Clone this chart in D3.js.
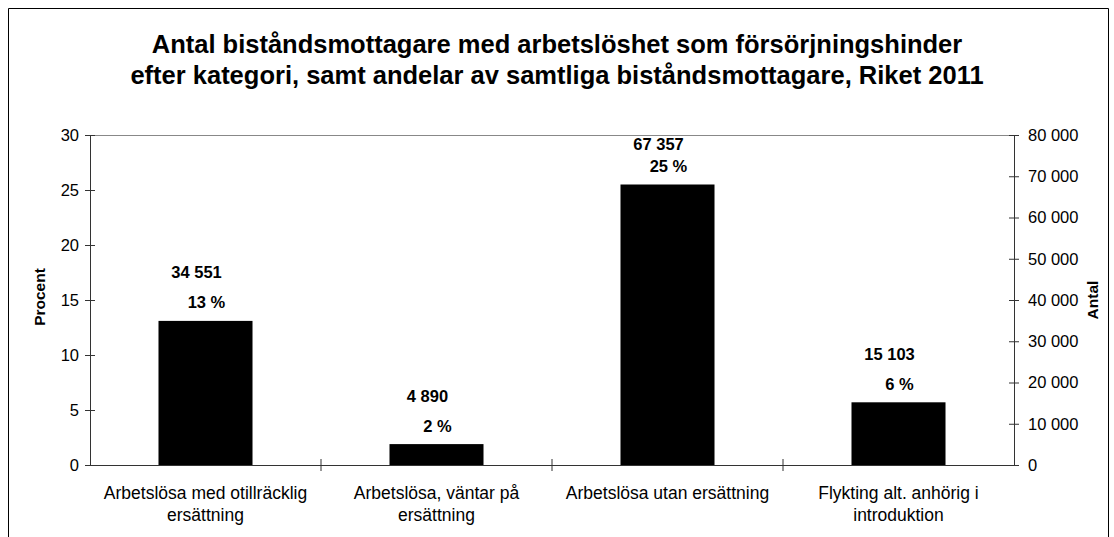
<!DOCTYPE html>
<html>
<head>
<meta charset="utf-8">
<script src="https://cdn.jsdelivr.net/npm/d3@7"></script>
<style>
  body { margin: 0; background: #fff; }
  svg { display: block; font-family: "Liberation Sans", Arial, sans-serif; }
</style>
</head>
<body>
<div id="chart"></div>
<script>
const categories = [
  ["Arbetslösa med otillräcklig", "ersättning"],
  ["Arbetslösa, väntar på", "ersättning"],
  ["Arbetslösa utan ersättning"],
  ["Flykting alt. anhörig i", "introduktion"]
];
const percentValues = [13.1, 1.9, 25.5, 5.7];
const percentLabels = ["13 %", "2 %", "25 %", "6 %"];
const countLabels = ["34 551", "4 890", "67 357", "15 103"];
const percentTicks = [0, 5, 10, 15, 20, 25, 30];
const countTicks = [0, 10000, 20000, 30000, 40000, 50000, 60000, 70000, 80000];
const titleLines = [
  "Antal biståndsmottagare med arbetslöshet som försörjningshinder",
  "efter kategori, samt andelar av samtliga biståndsmottagare, Riket 2011"
];

const width = 1114, height = 537;
const margin = { top: 135, right: 100, bottom: 72, left: 90 };
const plotW = width - margin.left - margin.right;
const plotH = height - margin.top - margin.bottom;

const svg = d3.select("#chart").append("svg")
  .attr("width", width)
  .attr("height", height);

// outer frame (cut off at the bottom like the original)
svg.append("path")
  .attr("d", `M8.5,${height}V8.5H1108.5V${height}`)
  .attr("fill", "none")
  .attr("stroke", "#000")
  .attr("stroke-width", 1);

svg.append("g").selectAll("text")
  .data(titleLines)
  .enter().append("text")
  .attr("x", 557)
  .attr("y", (d, i) => 52.5 + i * 31)
  .attr("text-anchor", "middle")
  .attr("font-size", "25.5px")
  .attr("font-weight", "bold")
  .text(d => d);

const g = svg.append("g").attr("transform", `translate(${margin.left},${margin.top})`);

const x = d3.scaleBand()
  .domain(d3.range(categories.length))
  .range([0, plotW]);
const barW = x.step() * 0.407;

const yPct = d3.scaleLinear().domain([0, 30]).range([plotH, 0]);
const yCount = d3.scaleLinear().domain([0, 80000]).range([plotH, 0]);

// top border of plot area
g.append("line")
  .attr("x1", 0).attr("x2", plotW)
  .attr("y1", 0.5).attr("y2", 0.5)
  .attr("stroke", "#888");

// bars
g.selectAll("rect.bar")
  .data(percentValues)
  .enter().append("rect")
  .attr("class", "bar")
  .attr("x", (d, i) => x(i) + (x.step() - barW) / 2)
  .attr("y", d => yPct(d))
  .attr("width", barW)
  .attr("height", d => plotH - yPct(d))
  .attr("fill", "#000");

// left axis
const leftAxis = g.append("g")
  .call(d3.axisLeft(yPct).tickValues(percentTicks).tickSize(5));
leftAxis.selectAll(".tick line").attr("x1", 5).attr("x2", -5);

// right axis
const fmtCount = d => d3.format(",")(d).replace(/,/g, " ");
const rightAxis = g.append("g")
  .attr("transform", `translate(${plotW},0)`)
  .call(d3.axisRight(yCount).tickValues(countTicks).tickFormat(fmtCount));
rightAxis.selectAll(".tick line").attr("x1", -5).attr("x2", 5);

// bottom axis
const bottomAxis = g.append("g")
  .attr("transform", `translate(0,${plotH})`)
  .call(d3.axisBottom(x).tickValues([]).tickSizeOuter(0));
bottomAxis.selectAll(".cat-tick")
  .data(d3.range(1, categories.length))
  .enter().append("line")
  .attr("class", "cat-tick")
  .attr("x1", i => i * x.step()).attr("x2", i => i * x.step())
  .attr("y1", -6).attr("y2", 6)
  .attr("stroke", "#333");

[leftAxis, rightAxis, bottomAxis].forEach(a => {
  a.select(".domain").attr("stroke", "#333");
  a.selectAll(".tick line").attr("stroke", "#333");
  a.selectAll(".tick text")
    .attr("font-size", "16.5px")
    .attr("font-family", "Liberation Sans, Arial, sans-serif")
    .attr("fill", "#000");
});
leftAxis.selectAll(".tick text").attr("x", -11);
rightAxis.selectAll(".tick text").attr("x", 14);
leftAxis.select(".domain").attr("d", `M0.5,0V${plotH}`);
rightAxis.select(".domain").attr("d", `M0.5,0V${plotH}`);

// category labels
const catG = g.append("g").attr("transform", `translate(0,${plotH})`);
categories.forEach((lines, i) => {
  catG.append("text")
    .attr("text-anchor", "middle")
    .attr("font-size", "17.5px")
    .selectAll("tspan")
    .data(lines)
    .enter().append("tspan")
    .attr("x", x(i) + x.step() / 2)
    .attr("y", (d, j) => 34 + j * 22)
    .text(d => d);
});

// data labels
percentValues.forEach((v, i) => {
  const cx = x(i) + x.step() / 2;
  const pctY = yPct(v) - 12.5;
  const countY = Math.max(pctY - 30, 15);
  g.append("text")
    .attr("x", cx + 1)
    .attr("y", pctY)
    .attr("text-anchor", "middle")
    .attr("font-size", "16.5px")
    .attr("font-weight", "bold")
    .text(percentLabels[i]);
  g.append("text")
    .attr("x", cx - 9)
    .attr("y", countY)
    .attr("text-anchor", "middle")
    .attr("font-size", "16.5px")
    .attr("font-weight", "bold")
    .text(countLabels[i]);
});

// axis titles
svg.append("text")
  .attr("transform", `translate(45,${margin.top + plotH / 2 - 3}) rotate(-90)`)
  .attr("text-anchor", "middle")
  .attr("font-size", "15.5px")
  .attr("font-weight", "bold")
  .text("Procent");
svg.append("text")
  .attr("transform", `translate(1098,${margin.top + plotH / 2}) rotate(-90)`)
  .attr("text-anchor", "middle")
  .attr("font-size", "15.5px")
  .attr("font-weight", "bold")
  .text("Antal");
</script>
</body>
</html>
